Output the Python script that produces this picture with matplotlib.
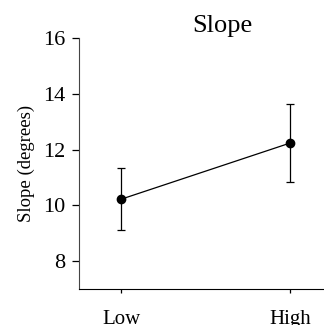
import matplotlib
matplotlib.use("Agg")
import matplotlib.pyplot as plt

conditions = ["Low", "High"]
slope_mean = [10.22, 12.23]
slope_err = [1.12, 1.40]

plt.rcParams["font.family"] = ["Liberation Serif", "DejaVu Serif"]

fig = plt.figure(figsize=(3.24, 3.25), dpi=100)
ax = fig.add_axes([79 / 324, 1 - 289 / 325, (332 - 79) / 324, (289 - 38) / 325])

x = list(range(len(conditions)))
ax.errorbar(x, slope_mean, yerr=slope_err, color="black", marker="o",
            markersize=6, linewidth=0.9, elinewidth=0.9, capsize=3, capthick=0.9)

ax.set_xlim(-0.25, 1.25)
ax.set_ylim(7, 16)
ax.set_yticks([8, 10, 12, 14, 16])
ax.set_xticks(x)
ax.set_xticklabels(conditions)
ax.tick_params(axis="y", labelsize=16, length=5, width=0.9, pad=5)
ax.tick_params(axis="x", labelsize=15, length=3, width=0.9, pad=12)
ax.spines["top"].set_visible(False)
ax.spines["right"].set_visible(False)
ax.spines["left"].set_color("#444444")
ax.set_ylabel("Slope (degrees)", fontsize=13.5, labelpad=6)

fig.text(222 / 324, 1 - 26 / 325, "Slope", ha="center", va="center", fontsize=19)

fig.savefig("out.png", dpi=100)
